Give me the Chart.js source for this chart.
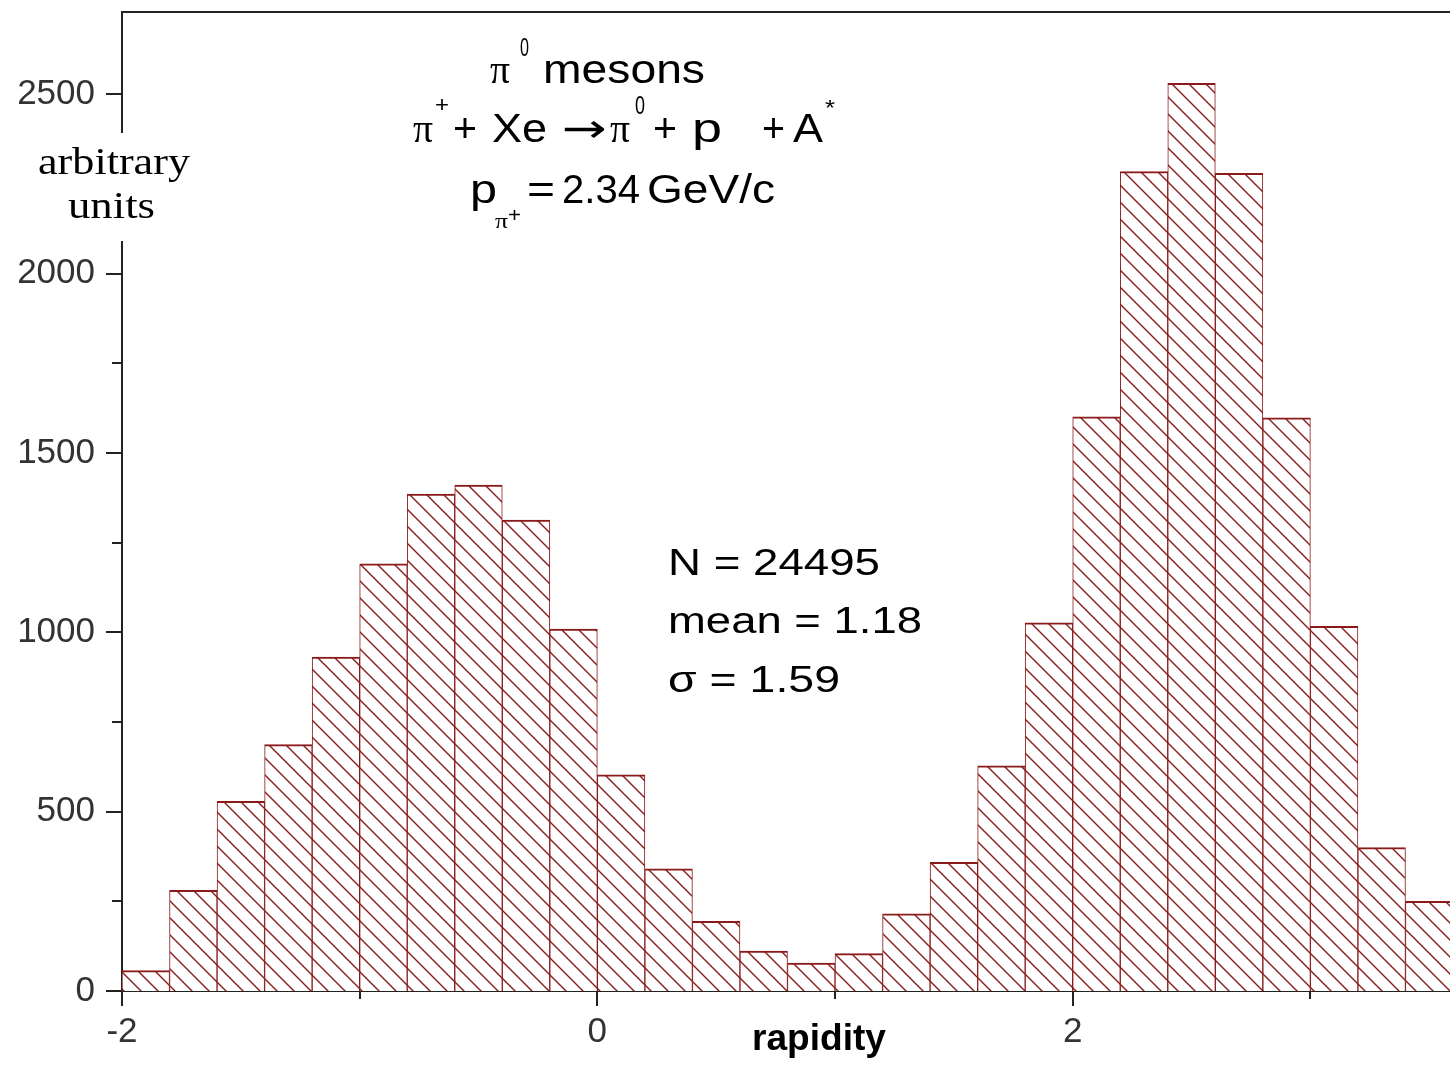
<!DOCTYPE html>
<html>
<head>
<meta charset="utf-8">
<script src="https://cdn.jsdelivr.net/npm/chart.js@4.4.1/dist/chart.umd.min.js"></script>
<style>
html,body{margin:0;padding:0;background:#fff;overflow:hidden;width:1450px;height:1065px}
#wrap{position:absolute;left:0;top:0;width:1453px;height:1065px}
</style>
</head>
<body>
<div id="wrap"><canvas id="c" width="1453" height="1065"></canvas></div>
<script>
// ---- data ----
const binCenters = [-1.9,-1.7,-1.5,-1.3,-1.1,-0.9,-0.7,-0.5,-0.3,-0.1,
                     0.1, 0.3, 0.5, 0.7, 0.9, 1.1, 1.3, 1.5, 1.7, 1.9,
                     2.1, 2.3, 2.5, 2.7, 2.9, 3.1, 3.3, 3.5];
const counts = [57, 281, 529, 687, 931, 1191, 1386, 1411, 1313, 1009,
                603, 341, 194, 111, 78, 104, 215, 359, 628, 1027,
                1601, 2285, 2531, 2280, 1598, 1017, 400, 250];
const xTicks = [-2, -1, 0, 1, 2, 3];
const xLabeledTicks = [-2, 0, 2];
const yTicks = [0, 250, 500, 750, 1000, 1250, 1500, 1750, 2000, 2250, 2500];
const yLabeledTicks = [0, 500, 1000, 1500, 2000, 2500];

// ---- styles ----
const RED = '#8b1a1a';
const AXIS = '#222';
const SANS = '"Liberation Sans", Arial, sans-serif';
const SERIF = '"Liberation Serif", "Times New Roman", serif';

function hatch() {
  const s = 17, c = document.createElement('canvas');
  c.width = s; c.height = s;
  const g = c.getContext('2d');
  g.fillStyle = '#fff'; g.fillRect(0, 0, s, s);
  g.strokeStyle = RED; g.lineWidth = 1.4;
  g.beginPath();
  g.moveTo(-2, -2); g.lineTo(s + 2, s + 2);
  g.moveTo(s - 2, -2); g.lineTo(s + 2, 2);
  g.moveTo(-2, s - 2); g.lineTo(2, s + 2);
  g.stroke();
  return g.createPattern(c, 'repeat');
}

function txt(ctx, s, x, y, size, family, w, weight) {
  ctx.save();
  ctx.font = (weight || 'normal') + ' ' + size + 'px ' + family;
  ctx.textAlign = 'left';
  ctx.textBaseline = 'alphabetic';
  const m = ctx.measureText(s).width;
  const sx = w ? w / m : 1;
  ctx.translate(x, y);
  ctx.scale(sx, 1);
  ctx.fillStyle = '#000';
  ctx.fillText(s, 0, 0);
  ctx.restore();
}

const decor = {
  id: 'decor',
  afterDraw(chart) {
    const ctx = chart.ctx, a = chart.chartArea;
    const xs = chart.scales.x, ys = chart.scales.y;
    ctx.save();
    ctx.strokeStyle = AXIS; ctx.lineWidth = 2;
    ctx.beginPath();
    ctx.moveTo(a.left - 1, a.top); ctx.lineTo(a.right, a.top);
    xs.ticks.forEach(t => {
      const px = Math.round(xs.getPixelForValue(t.value));
      const len = xLabeledTicks.includes(t.value) ? 15 : 8;
      ctx.moveTo(px, a.bottom); ctx.lineTo(px, a.bottom + len);
    });
    ys.ticks.forEach(t => {
      const py = Math.round(ys.getPixelForValue(t.value));
      const len = yLabeledTicks.includes(t.value) ? 16 : 10;
      ctx.moveTo(a.left - len, py); ctx.lineTo(a.left, py);
    });
    ctx.stroke();
    // white box behind the y-axis title (it masks the axis line)
    ctx.fillStyle = '#fff';
    ctx.fillRect(30, 133, 168, 108);
    ctx.restore();

    // title block
    txt(ctx, 'π', 490, 83, 40, SERIF, 20);
    txt(ctx, '0', 520, 56, 26, SANS, 9);
    txt(ctx, 'mesons', 543, 83, 40, SANS, 162);

    txt(ctx, 'π', 413, 142, 40, SERIF, 20);
    txt(ctx, '+', 435, 112, 22, SANS, 14);
    txt(ctx, '+', 453, 142, 40, SANS, 24);
    txt(ctx, 'Xe', 492, 142, 40, SANS, 55);
    txt(ctx, '→', 562, 142, 40, '"DejaVu Sans", sans-serif', 45);
    txt(ctx, 'π', 610, 142, 40, SERIF, 20);
    txt(ctx, '0', 635, 114, 26, SANS, 10);
    txt(ctx, '+', 653, 142, 40, SANS, 24);
    txt(ctx, 'p', 692, 142, 40, SANS, 30);
    txt(ctx, '+', 762, 142, 40, SANS, 23);
    txt(ctx, 'A', 793, 142, 40, SANS, 30);
    txt(ctx, '*', 825, 115, 22, SANS, 10);

    txt(ctx, 'p', 470, 203, 40, SANS, 27);
    txt(ctx, 'π', 495, 228, 22, SERIF, 13);
    txt(ctx, '+', 508, 222, 20, SANS, 13);
    txt(ctx, '=', 527, 203, 40, SANS, 28);
    txt(ctx, '2.34', 562, 203, 40, SANS, 78);
    txt(ctx, 'GeV/c', 647, 203, 40, SANS, 128);

    // statistics
    txt(ctx, 'N = 24495', 668, 575, 37, SANS, 212);
    txt(ctx, 'mean = 1.18', 668, 633, 37, SANS, 254);
    txt(ctx, 'σ = 1.59', 668, 692, 37, SANS, 172);

    // axis titles
    txt(ctx, 'arbitrary', 38, 174, 37, SERIF, 152);
    txt(ctx, 'units', 68, 218, 37, SERIF, 87);
    txt(ctx, 'rapidity', 752, 1050, 36, SANS, 134, 'bold');
  }
};

const ctx = document.getElementById('c').getContext('2d');
new Chart(ctx, {
  type: 'bar',
  data: {
    datasets: [{
      data: binCenters.map((x, i) => ({ x: x, y: counts[i] })),
      backgroundColor: hatch(),
      borderColor: RED,
      borderWidth: { top: 2, left: 1, right: 1, bottom: 0 },
      borderSkipped: false,
      barPercentage: 1,
      categoryPercentage: 1
    }]
  },
  options: {
    responsive: false,
    animation: false,
    devicePixelRatio: 1,
    layout: { padding: { top: 12, left: 0, right: 0, bottom: 0 } },
    plugins: { legend: { display: false }, tooltip: { enabled: false } },
    scales: {
      x: {
        type: 'linear', min: -2, max: 3.6, offset: false,
        grid: { display: false, drawTicks: false, offset: false },
        border: { display: true, color: AXIS, width: 2 },
        afterBuildTicks: s => { s.ticks = xTicks.map(v => ({ value: v })); },
        ticks: {
          autoSkip: false, maxRotation: 0,
          padding: 20, color: '#333', font: { family: SANS, size: 35 },
          callback: v => xLabeledTicks.includes(v) ? String(v) : ''
        },
        afterFit: s => { s.height = 74; s.paddingLeft = 0; s.paddingRight = 0; }
      },
      y: {
        type: 'linear', min: 0, max: 2730,
        grid: { display: false, drawTicks: false },
        border: { display: true, color: AXIS, width: 2 },
        afterBuildTicks: s => { s.ticks = yTicks.map(v => ({ value: v })); },
        ticks: {
          autoSkip: false,
          padding: 27, color: '#333', font: { family: SANS, size: 35 },
          callback: v => yLabeledTicks.includes(v) ? String(v) : ''
        },
        afterFit: s => { s.width = 122; s.paddingTop = 0; s.paddingBottom = 0; }
      }
    }
  },
  plugins: [decor]
});
</script>
</body>
</html>
